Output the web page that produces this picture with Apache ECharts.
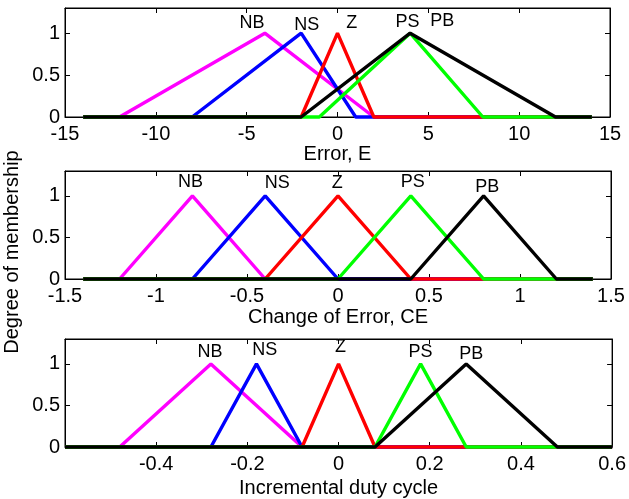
<!DOCTYPE html>
<html>
<head>
<meta charset="utf-8">
<script src="https://cdn.jsdelivr.net/npm/echarts@6/dist/echarts.min.js"></script>
<style>
html,body{margin:0;padding:0;background:#fff;}
#chart{width:629px;height:499px;}
</style>
</head>
<body>
<div id="chart"></div>
<script>
// ---------- DATA ----------
var setNames = ['NB', 'NS', 'Z', 'PS', 'PB'];
var setColors = ['#ff00ff', '#0000ff', '#ff0000', '#00ff00', '#000000'];

// Panel 1: Error, E  (universe -14..14)
var errNB = [[-14, 0], [-12, 0], [-4, 1], [2, 0], [14, 0]];
var errNS = [[-14, 0], [-8, 0], [-2, 1], [1, 0], [14, 0]];
var errZ  = [[-14, 0], [-2, 0], [0, 1], [2, 0], [14, 0]];
var errPS = [[-14, 0], [-1, 0], [4, 1], [8, 0], [14, 0]];
var errPB = [[-14, 0], [-2, 0], [4, 1], [12, 0], [14, 0]];
var errLabels = [[-4.7, 1.12, 'NB'], [-1.69, 1.10, 'NS'], [0.78, 1.12, 'Z'], [3.86, 1.13, 'PS'], [5.76, 1.15, 'PB']];

// Panel 2: Change of Error, CE (universe -1.4..1.4)
var ceNB = [[-1.4, 0], [-1.2, 0], [-0.8, 1], [-0.4, 0], [1.4, 0]];
var ceNS = [[-1.4, 0], [-0.8, 0], [-0.4, 1], [0, 0], [1.4, 0]];
var ceZ  = [[-1.4, 0], [-0.4, 0], [0, 1], [0.4, 0], [1.4, 0]];
var cePS = [[-1.4, 0], [0, 0], [0.4, 1], [0.8, 0], [1.4, 0]];
var cePB = [[-1.4, 0], [0.4, 0], [0.8, 1], [1.2, 0], [1.4, 0]];
var ceLabels = [[-0.81, 1.17, 'NB'], [-0.334, 1.15, 'NS'], [-0.004, 1.15, 'Z'], [0.411, 1.17, 'PS'], [0.82, 1.11, 'PB']];

// Panel 3: Incremental duty cycle (universe -0.6..0.6)
var dNB = [[-0.6, 0], [-0.48, 0], [-0.28, 1], [-0.08, 0], [0.6, 0]];
var dNS = [[-0.6, 0], [-0.28, 0], [-0.18, 1], [-0.08, 0], [0.6, 0]];
var dZ  = [[-0.6, 0], [-0.08, 0], [0, 1], [0.08, 0], [0.6, 0]];
var dPS = [[-0.6, 0], [0.08, 0], [0.18, 1], [0.28, 0], [0.6, 0]];
var dPB = [[-0.6, 0], [0.08, 0], [0.28, 1], [0.48, 0], [0.6, 0]];
var dLabels = [[-0.282, 1.144, 'NB'], [-0.162, 1.162, 'NS'], [0.004, 1.198, 'Z'], [0.18, 1.144, 'PS'], [0.291, 1.122, 'PB']];

var xTitles = ['Error, E', 'Change of Error, CE', 'Incremental duty cycle'];
var xMins = [-15, -1.5, -0.6];
var xMaxs = [15, 1.5, 0.6];
var xIntervals = [5, 0.5, 0.2];
var yTitle = 'Degree of membership';

// ---------- CHART ----------
var FONT = '"Liberation Sans", Arial, Helvetica, sans-serif';
var panels = [[errNB, errNS, errZ, errPS, errPB], [ceNB, ceNS, ceZ, cePS, cePB], [dNB, dNS, dZ, dPS, dPB]];
var panelLabels = [errLabels, ceLabels, dLabels];

var grids = [
  {left: 65, right: 19, top: 8, height: 109},
  {left: 65, right: 18, top: 171, height: 108},
  {left: 65, right: 16, top: 339, height: 108}
];
var nameGaps = [23, 28, 31];

var xAxes = [], yAxes = [], series = [];
var axisLine = {show: true, onZero: false, lineStyle: {color: '#000', width: 1}};
var tickIn = {show: true, inside: true, length: 5, lineStyle: {color: '#000', width: 1}};

for (var i = 0; i < 3; i++) {
  grids[i].show = true;
  grids[i].borderColor = '#000';
  grids[i].borderWidth = 1;
  xAxes.push({
    type: 'value', gridIndex: i, position: 'bottom',
    min: xMins[i], max: xMaxs[i], interval: xIntervals[i],
    axisLine: axisLine, axisTick: tickIn, splitLine: {show: false},
    axisLabel: {fontSize: 20, color: '#000', fontFamily: FONT, margin: 7,
      showMinLabel: i !== 2},
    name: xTitles[i], nameLocation: 'middle', nameGap: nameGaps[i],
    nameTextStyle: {fontSize: 20, color: '#000', fontFamily: FONT}
  });
  xAxes.push({
    type: 'value', gridIndex: i, position: 'top',
    min: xMins[i], max: xMaxs[i], interval: xIntervals[i],
    axisLine: axisLine, axisTick: tickIn, splitLine: {show: false},
    axisLabel: {show: false}
  });
  yAxes.push({
    type: 'value', gridIndex: i, position: 'left',
    min: 0, max: 1.3, interval: 0.5,
    axisLine: axisLine, axisTick: tickIn, splitLine: {show: false},
    axisLabel: {fontSize: 20, color: '#000', fontFamily: FONT, margin: 5, showMaxLabel: false}
  });
  yAxes.push({
    type: 'value', gridIndex: i, position: 'right',
    min: 0, max: 1.3, interval: 0.5,
    axisLine: axisLine, axisTick: tickIn, splitLine: {show: false},
    axisLabel: {show: false}
  });
  for (var s = 0; s < 5; s++) {
    series.push({
      type: 'line', name: setNames[s] + i,
      xAxisIndex: 2 * i, yAxisIndex: 2 * i,
      data: panels[i][s], showSymbol: false, symbol: 'none',
      lineStyle: {color: setColors[s], width: 3.4},
      itemStyle: {color: setColors[s]},
      clip: false
    });
  }
  series.push({
    type: 'scatter', xAxisIndex: 2 * i, yAxisIndex: 2 * i,
    data: panelLabels[i], symbolSize: 0,
    itemStyle: {color: '#000', opacity: 1},
    label: {show: true, position: [0, 0], align: 'center', verticalAlign: 'middle',
      formatter: function (p) { return p.data[2]; },
      fontSize: 18, color: '#000', textBorderWidth: 0, fontFamily: FONT},
    silent: true, z: 5
  });
}

var chart = echarts.init(document.getElementById('chart'), null, {renderer: 'canvas'});
chart.setOption({
  animation: false,
  backgroundColor: '#fff',
  grid: grids,
  xAxis: xAxes,
  yAxis: yAxes,
  series: series,
  graphic: [{
    type: 'text', x: 12, y: 252, rotation: Math.PI / 2,
    style: {text: yTitle, fontSize: 20, fontFamily: FONT, fill: '#000',
      align: 'center', verticalAlign: 'middle'}
  }]
});
</script>
</body>
</html>
